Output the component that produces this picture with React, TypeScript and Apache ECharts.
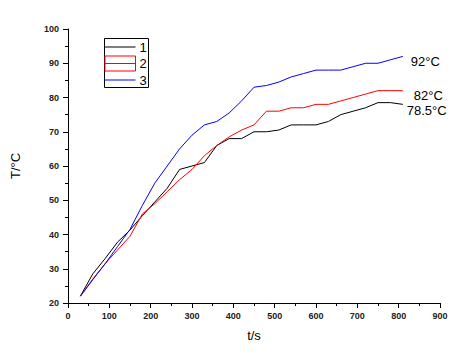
import React, { useEffect, useRef } from "react";
import * as echarts from "echarts";

const times = [30, 60, 90, 120, 150, 180, 210, 240, 270, 300, 330, 360, 390, 420, 450, 480, 510, 540, 570, 600, 630, 660, 690, 720, 750, 780, 810];
const series1 = [22, 28.5, 33, 37.8, 41.3, 45.5, 49.5, 53.5, 59, 60, 61, 66, 68, 68, 70, 70, 70.5, 72, 72, 72, 73, 75, 76, 77, 78.5, 78.5, 78];
const series2 = [22, 27, 31.5, 35.5, 39.5, 46, 49, 52.5, 56, 59, 63, 66, 68.5, 70.5, 72, 76, 76, 77, 77, 78, 78, 79, 80, 81, 82, 82, 82];
const series3 = [22, 26.8, 31.5, 36.5, 41.5, 48.5, 55, 60, 65, 69, 72, 73, 75.5, 79, 83, 83.5, 84.5, 86, 87, 88, 88, 88, 89, 90, 90, 91, 92];
const seriesNames = ["1", "2", "3"];
const endLabels = ["78.5°C", "82°C", "92°C"];
const xTicks = { min: 0, max: 900, interval: 100 };
const yTicks = { min: 20, max: 100, interval: 10 };

const FONT = "Arial, 'Liberation Sans', sans-serif";

export default function App() {
  const ref = useRef<HTMLDivElement>(null);
  useEffect(() => {
    document.body.style.margin = "0";
    const chart = echarts.init(ref.current!, null, { renderer: "svg" });
    const colors = ["#000000", "#ff0000", "#0000ff"];
    const datas = [series1, series2, series3];
    const offsets = [[4, 6], [11, 5], [8, 5]];
    chart.setOption({
      animation: false,
      backgroundColor: "#ffffff",
      grid: { left: 68, right: 30, top: 29, bottom: 50 },
      xAxis: {
        type: "value",
        min: xTicks.min,
        max: xTicks.max,
        interval: xTicks.interval,
        name: "t/s",
        nameLocation: "middle",
        nameGap: 26,
        nameTextStyle: { fontFamily: FONT, fontSize: 13, color: "#000" },
        axisLine: { show: true, onZero: false, lineStyle: { color: "#000", width: 1 } },
        axisTick: { show: true, inside: false, length: 5, lineStyle: { color: "#000" } },
        minorTick: { show: true, splitNumber: 2, length: 3, lineStyle: { color: "#000" } },
        splitLine: { show: false },
        axisLabel: { fontFamily: FONT, fontSize: 9, fontWeight: "bold", color: "#222", margin: 8 },
      },
      yAxis: {
        type: "value",
        min: yTicks.min,
        max: yTicks.max,
        interval: yTicks.interval,
        name: "T/°C",
        nameLocation: "middle",
        nameGap: 46,
        nameTextStyle: { fontFamily: FONT, fontSize: 13, color: "#000" },
        axisLine: { show: true, lineStyle: { color: "#000", width: 1 } },
        axisTick: { show: true, inside: false, length: 5, lineStyle: { color: "#000" } },
        minorTick: { show: true, splitNumber: 2, length: 3, lineStyle: { color: "#000" } },
        splitLine: { show: false },
        axisLabel: { fontFamily: FONT, fontSize: 9, fontWeight: "bold", color: "#222", margin: 9 },
      },
      series: datas.map((d, i) => ({
        type: "line",
        name: seriesNames[i],
        data: times.map((t, j) => [t, d[j]]),
        showSymbol: false,
        symbol: "none",
        lineStyle: { color: colors[i], width: 1 },
        itemStyle: { color: colors[i] },
        endLabel: {
          show: true,
          formatter: () => endLabels[i],
          fontFamily: FONT,
          fontSize: 13,
          color: "#000",
          distance: 0,
          offset: offsets[i],
        },
      })),
      graphic: [
        {
          type: "group",
          left: 102,
          top: 38,
          children: [
            { type: "rect", shape: { x: 0, y: 0, width: 44, height: 49 }, style: { fill: "#fff", stroke: "#000", lineWidth: 1 } },
            { type: "line", shape: { x1: 0, y1: 8.5, x2: 31, y2: 8.5 }, style: { stroke: "#000", lineWidth: 1 } },
            { type: "rect", shape: { x: 0.5, y: 17.5, width: 30.5, height: 15 }, style: { fill: "none", stroke: "#ff0000", lineWidth: 1 } },
            { type: "line", shape: { x1: 0, y1: 25, x2: 31, y2: 25 }, style: { stroke: "#ff0000", lineWidth: 1 } },
            { type: "line", shape: { x1: 0, y1: 41.5, x2: 31, y2: 41.5 }, style: { stroke: "#0000ff", lineWidth: 1 } },
            { type: "text", x: 35, y: 8.5, style: { text: seriesNames[0], font: "13px " + FONT, fill: "#000", verticalAlign: "middle" } },
            { type: "text", x: 35, y: 25, style: { text: seriesNames[1], font: "13px " + FONT, fill: "#000", verticalAlign: "middle" } },
            { type: "text", x: 35, y: 41.5, style: { text: seriesNames[2], font: "13px " + FONT, fill: "#000", verticalAlign: "middle" } },
          ],
        },
      ],
    });
    return () => chart.dispose();
  }, []);
  return <div ref={ref} style={{ width: 470, height: 353, position: "absolute", left: 0, top: 0 }} />;
}
